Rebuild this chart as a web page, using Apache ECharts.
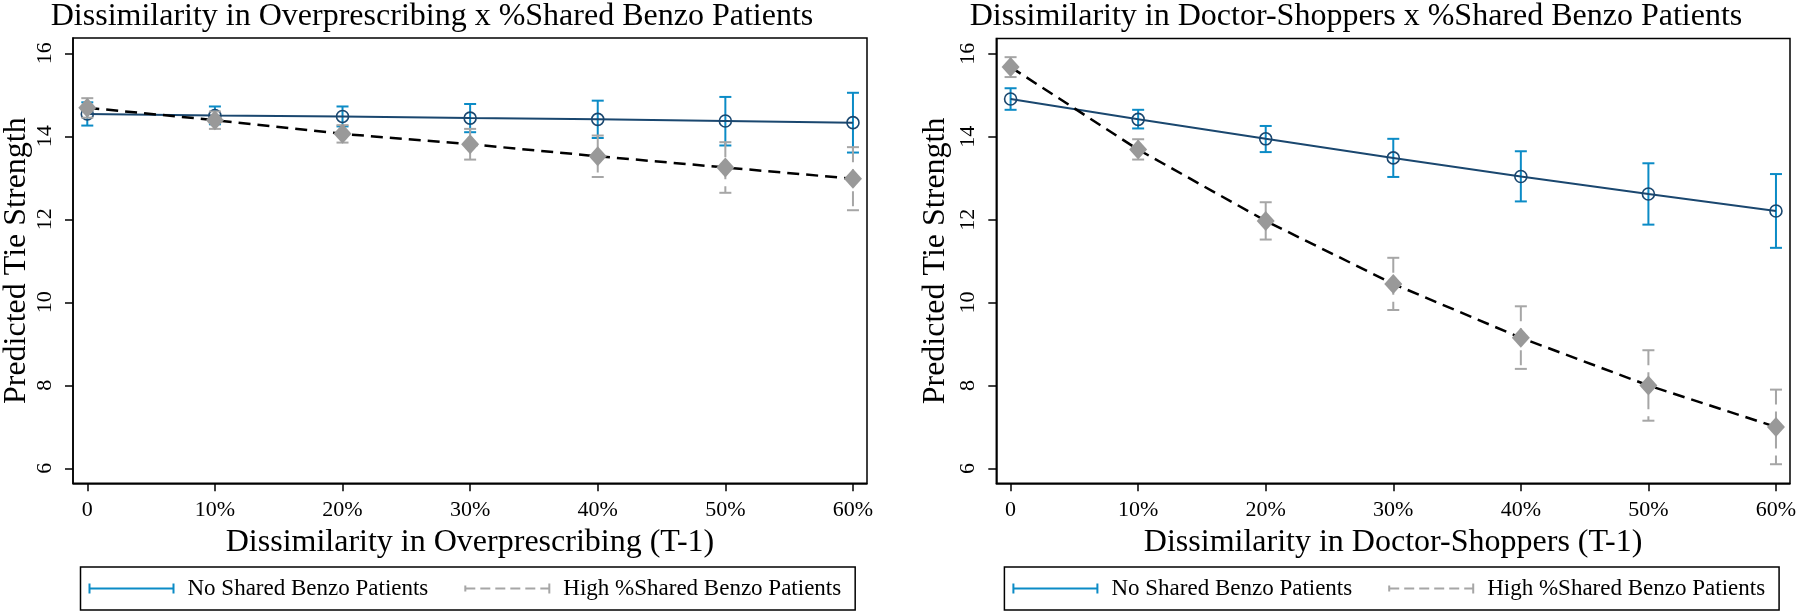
<!DOCTYPE html>
<html>
<head>
<meta charset="utf-8">
<script src="https://cdn.jsdelivr.net/npm/echarts@6/dist/echarts.min.js"></script>
<style>
  html, body { margin: 0; padding: 0; background: #fff; }
  #chart { width: 1800px; height: 616px; }
</style>
</head>
<body>
<div id="chart"></div>
<script>
// ---------- data ----------
const xValues = [0, 10, 20, 30, 40, 50, 60];
const xTickLabels = ['0', '10%', '20%', '30%', '40%', '50%', '60%'];
const yTickValues = [6, 8, 10, 12, 14, 16];
const seriesNames = ['No Shared Benzo Patients', 'High %Shared Benzo Patients'];
const panelTitles = ['Dissimilarity in Overprescribing x %Shared Benzo Patients',
                     'Dissimilarity in Doctor-Shoppers x %Shared Benzo Patients'];
const xAxisTitles = ['Dissimilarity in Overprescribing (T-1)', 'Dissimilarity in Doctor-Shoppers (T-1)'];
const yAxisTitle = 'Predicted Tie Strength';

// Left panel: Overprescribing
const overNoShared      = [14.54, 14.50, 14.48, 14.44, 14.41, 14.37, 14.33];
const overNoSharedLow   = [14.26, 14.29, 14.24, 14.10, 13.96, 13.78, 13.61];
const overNoSharedHigh  = [14.82, 14.72, 14.72, 14.78, 14.86, 14.95, 15.05];
const overHighShared     = [14.69, 14.39, 14.06, 13.81, 13.52, 13.25, 12.98];
const overHighSharedLow  = [14.45, 14.18, 13.85, 13.44, 13.02, 12.64, 12.22];
const overHighSharedHigh = [14.92, 14.60, 14.27, 14.18, 14.02, 13.86, 13.74];

// Right panel: Doctor-Shoppers
const docNoShared      = [14.91, 14.42, 13.95, 13.49, 13.04, 12.62, 12.21];
const docNoSharedLow   = [14.65, 14.20, 13.63, 13.03, 12.44, 11.88, 11.32];
const docNoSharedHigh  = [15.17, 14.65, 14.26, 13.95, 13.65, 13.36, 13.10];
const docHighShared     = [15.68, 13.69, 11.97, 10.45, 9.15, 8.00, 7.00];
const docHighSharedLow  = [15.44, 13.45, 11.52, 9.82, 8.40, 7.15, 6.10];
const docHighSharedHigh = [15.92, 13.94, 12.42, 11.08, 9.91, 8.85, 7.90];

// ---------- styles ----------
const FONT = '"Liberation Serif", "Times New Roman", serif';
const NAVY = '#1a476f';
const EBBLUE = '#0b8bc6';
const GREY_CI = '#a6a6a6';
const GREY_MK = '#999999';

const chart = echarts.init(document.getElementById('chart'), null, { renderer: 'canvas' });

function errorBar(dashed, color) {
  return function (params, api) {
    const x = api.value(0), lo = api.value(1), hi = api.value(2);
    const t = api.coord([x, hi]), b = api.coord([x, lo]);
    const hw = 6;
    const base = { stroke: color, lineWidth: 2, fill: null };
    const vert = dashed ? Object.assign({}, base, { lineDash: [15, 7] }) : base;
    return {
      type: 'group',
      children: [
        { type: 'line', shape: { x1: t[0], y1: t[1], x2: b[0], y2: b[1] }, style: vert },
        { type: 'line', shape: { x1: t[0] - hw, y1: t[1], x2: t[0] + hw, y2: t[1] }, style: base },
        { type: 'line', shape: { x1: b[0] - hw, y1: b[1], x2: b[0] + hw, y2: b[1] }, style: base }
      ]
    };
  };
}

function ciData(lo, hi) { return xValues.map((x, i) => [x, lo[i], hi[i]]); }
function ptData(v) { return xValues.map((x, i) => [x, v[i]]); }

function xAxisFor(idx, name) {
  return {
    type: 'value', gridIndex: idx, min: -1.12, max: 61.1,
    name: name, nameLocation: 'middle', nameGap: 38,
    nameTextStyle: { fontFamily: FONT, fontSize: 32, color: '#000' },
    axisLine: { show: true, onZero: false, lineStyle: { color: '#000', width: 1.5 } },
    axisTick: { show: true, length: 8, customValues: xValues, lineStyle: { color: '#000', width: 1.5 } },
    axisLabel: {
      customValues: xValues, margin: 16, fontFamily: FONT, fontSize: 22, color: '#000',
      formatter: v => xTickLabels[xValues.indexOf(v)]
    },
    splitLine: { show: false }
  };
}
function yAxisFor(idx, gap) {
  return {
    type: 'value', gridIndex: idx, min: 5.64, max: 16.37,
    name: yAxisTitle, nameLocation: 'middle', nameGap: gap, nameRotate: 90,
    nameTextStyle: { fontFamily: FONT, fontSize: 32, color: '#000' },
    axisLine: { show: true, onZero: false, lineStyle: { color: '#000', width: 1.5 } },
    axisTick: { show: true, length: 8, customValues: yTickValues, lineStyle: { color: '#000', width: 1.5 } },
    axisLabel: { customValues: yTickValues, rotate: 90, margin: 17, fontFamily: FONT, fontSize: 22, color: '#000' },
    splitLine: { show: false }
  };
}

const capIcon = 'path://M0,0h2v10h-2z M2,4h82v2h-82z M84,0h2v10h-2z';
const dashIcon = 'path://M0,2h2v6h-2z M2,4h9v2h-9z M16,4h10v2h-10z M31,4h10v2h-10z M46,4h10v2h-10z M61,4h10v2h-10z M76,4h8v2h-8z M84,0h2v10h-2z';

function legendFor(left) {
  return {
    left: left, top: 567, orient: 'horizontal', itemGap: 36,
    itemWidth: 86, itemHeight: 10, symbolKeepAspect: false, selectedMode: false,
    padding: [10, 14, 10, 8], borderColor: '#000', borderWidth: 1.5, backgroundColor: '#fff',
    textStyle: { fontFamily: FONT, fontSize: 23, color: '#000', padding: [0, 0, 0, 8] },
    data: [
      { name: seriesNames[0], icon: capIcon, itemStyle: { color: EBBLUE, borderWidth: 0 } },
      { name: seriesNames[1], icon: dashIcon, itemStyle: { color: GREY_CI, borderWidth: 0 } }
    ]
  };
}

function panelSeries(idx, noV, noLo, noHi, hiV, hiLo, hiHi) {
  return [
    { type: 'custom', name: seriesNames[0], xAxisIndex: idx, yAxisIndex: idx,
      renderItem: errorBar(false, EBBLUE), data: ciData(noLo, noHi), encode: { x: 0, y: [1, 2] }, z: 2 },
    { type: 'line', name: seriesNames[0], xAxisIndex: idx, yAxisIndex: idx, data: ptData(noV),
      symbol: 'circle', symbolSize: 12, showAllSymbol: true,
      lineStyle: { color: NAVY, width: 2 },
      itemStyle: { color: 'rgba(0,0,0,0)', borderColor: NAVY, borderWidth: 1.6 }, z: 3 },
    { type: 'custom', name: seriesNames[1], xAxisIndex: idx, yAxisIndex: idx,
      renderItem: errorBar(true, GREY_CI), data: ciData(hiLo, hiHi), encode: { x: 0, y: [1, 2] }, z: 4 },
    { type: 'line', name: seriesNames[1], xAxisIndex: idx, yAxisIndex: idx, data: ptData(hiV),
      symbol: 'diamond', symbolSize: [18, 20], showAllSymbol: true,
      lineStyle: { color: '#000', width: 2.5, type: [12, 7] },
      itemStyle: { color: GREY_MK }, z: 5 }
  ];
}

const option = {
  animation: false,
  backgroundColor: '#fff',
  grid: [
    { left: 71.7, right: 933, top: 38, bottom: 132.7, show: true, borderColor: '#000', borderWidth: 1.5, backgroundColor: '#fff' },
    { left: 996.3, right: 10, top: 38.5, bottom: 132.7, show: true, borderColor: '#000', borderWidth: 1.5, backgroundColor: '#fff' }
  ],
  xAxis: [xAxisFor(0, xAxisTitles[0]), xAxisFor(1, xAxisTitles[1])],
  yAxis: [yAxisFor(0, 40), yAxisFor(1, 45)],
  legend: [legendFor(80.5), legendFor(1004.4)],
  graphic: [
    { type: 'text', x: 432, y: 17, style: { text: panelTitles[0], fontFamily: FONT, fontSize: 32, fill: '#000', align: 'center', verticalAlign: 'middle' } },
    { type: 'text', x: 1356, y: 17, style: { text: panelTitles[1], fontFamily: FONT, fontSize: 32, fill: '#000', align: 'center', verticalAlign: 'middle' } }
  ],
  series: [].concat(
    panelSeries(0, overNoShared, overNoSharedLow, overNoSharedHigh, overHighShared, overHighSharedLow, overHighSharedHigh),
    panelSeries(1, docNoShared, docNoSharedLow, docNoSharedHigh, docHighShared, docHighSharedLow, docHighSharedHigh)
  )
};
chart.setOption(option);
</script>
</body>
</html>
